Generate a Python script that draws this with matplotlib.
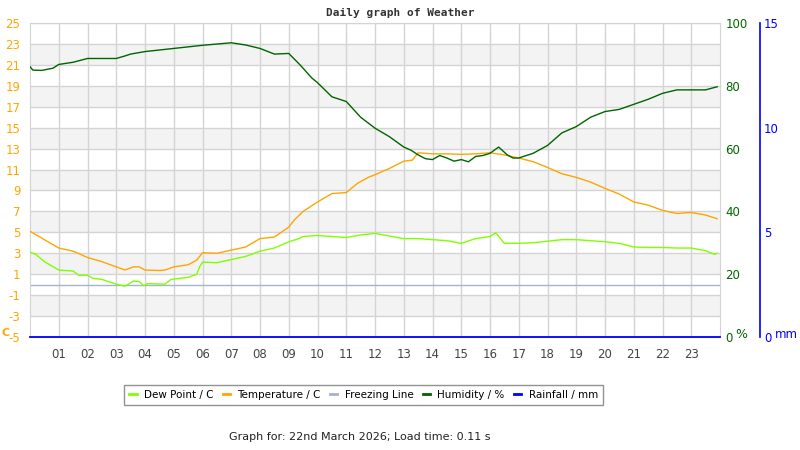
import matplotlib
matplotlib.use("Agg")
import matplotlib.pyplot as plt
from matplotlib.lines import Line2D

plt.rcParams["axes.unicode_minus"] = False

# hours of the day and readings
temp_hours = [0.0, 0.5, 1.0, 1.5, 2.0, 2.5, 3.0, 3.3, 3.6, 3.8, 4.0, 4.5, 4.7, 5.0, 5.5, 5.8,
              6.0, 6.5, 7.0, 7.5, 8.0, 8.5, 9.0, 9.2, 9.5, 10.0, 10.5, 11.0, 11.4, 11.8, 12.0,
              12.5, 13.0, 13.3, 13.5, 14.0, 14.5, 15.0, 15.5, 16.0, 16.5, 17.0, 17.5, 18.0,
              18.5, 19.0, 19.5, 20.0, 20.5, 21.0, 21.5, 22.0, 22.5, 23.0, 23.5, 23.9]
temperature = [5.1, 4.3, 3.5, 3.2, 2.6, 2.2, 1.7, 1.4, 1.7, 1.7, 1.4, 1.35, 1.4, 1.7, 1.9, 2.35,
               3.05, 3.0, 3.3, 3.6, 4.4, 4.55, 5.5, 6.2, 7.0, 7.9, 8.7, 8.8, 9.7, 10.3, 10.5,
               11.1, 11.8, 11.9, 12.6, 12.5, 12.5, 12.45, 12.5, 12.6, 12.4, 12.1, 11.75, 11.2,
               10.6, 10.25, 9.8, 9.2, 8.65, 7.9, 7.6, 7.1, 6.8, 6.9, 6.65, 6.3]

dew_hours = [0.0, 0.2, 0.5, 1.0, 1.5, 1.7, 2.0, 2.2, 2.5, 3.0, 3.3, 3.6, 3.8, 3.95, 4.1, 4.7,
             4.9, 5.5, 5.8, 5.9, 6.0, 6.5, 7.0, 7.5, 8.0, 8.5, 9.0, 9.3, 9.5, 10.0, 10.5, 11.0,
             11.5, 12.0, 12.5, 13.0, 13.5, 14.0, 14.5, 15.0, 15.5, 16.0, 16.2, 16.5, 17.0,
             17.5, 18.0, 18.5, 19.0, 19.5, 20.0, 20.5, 21.0, 21.5, 22.0, 22.5, 23.0, 23.5,
             23.8, 23.9]
dew_point = [3.1, 2.9, 2.2, 1.4, 1.3, 0.9, 0.9, 0.6, 0.5, 0.05, -0.15, 0.35, 0.3, -0.1, 0.1, 0.05,
             0.5, 0.7, 1.0, 1.7, 2.15, 2.1, 2.4, 2.7, 3.2, 3.5, 4.1, 4.35, 4.6, 4.7, 4.6, 4.5,
             4.75, 4.9, 4.65, 4.4, 4.4, 4.3, 4.2, 3.95, 4.4, 4.6, 4.95, 3.95, 3.95,
             4.0, 4.15, 4.3, 4.3, 4.2, 4.1, 3.95, 3.6, 3.55, 3.55, 3.5, 3.5, 3.25,
             2.9, 3.0]

hum_hours = [0.0, 0.1, 0.4, 0.8, 1.0, 1.5, 2.0, 3.0, 3.3, 3.5, 4.0, 5.0, 6.0, 7.0, 7.5, 8.0,
             8.5, 9.0, 9.4, 9.8, 10.0, 10.5, 11.0, 11.5, 12.0, 12.5, 13.0, 13.25, 13.5, 13.75,
             14.0, 14.25, 14.5, 14.75, 15.0, 15.25, 15.5, 15.75, 16.0, 16.3, 16.6, 16.8, 17.0,
             17.5, 18.0, 18.5, 19.0, 19.5, 20.0, 20.5, 21.0, 21.5, 22.0, 22.5, 23.0, 23.5, 23.9]
humidity = [86.1, 85.0, 84.9, 85.6, 86.8, 87.5, 88.7, 88.7, 89.5, 90.1, 90.9, 91.9, 92.9, 93.7,
            93.0, 91.9, 90.1, 90.3, 86.6, 82.5, 81.0, 76.5, 75.0, 70.0, 66.5, 63.8, 60.5, 59.5,
            58.0, 56.8, 56.5, 57.8, 57.0, 56.0, 56.5, 55.8, 57.5, 57.8, 58.5, 60.5, 58.0, 57.0,
            57.0, 58.5, 61.0, 65.0, 67.0, 70.0, 71.8, 72.5, 74.1, 75.7, 77.6, 78.7, 78.7, 78.7,
            79.7]

rain_hours = [0.0, 24.0]
rainfall = [0.0, 0.0]

freezing = 0.0
hour_labels = ["%02d" % h for h in range(1, 24)]

C_DEW = "#7fff00"
C_TEMP = "#ffa500"
C_FREEZE = "#a6b3c8"
C_HUM = "#006400"
C_RAIN = "#0000ff"
C_GRID = "#d4d4d4"

fig = plt.figure(figsize=(8, 4.5), dpi=100)
ax = fig.add_axes([30 / 800, 1 - 337 / 450, 690 / 800, 314 / 450])

# alternate shaded bands
for lo in range(-3, 25, 4):
    ax.axhspan(lo, lo + 2, color="#f3f3f3", lw=0, zorder=0)

ax.set_xlim(0, 24)
ax.set_ylim(-5, 25)
ax.set_yticks(range(-5, 26, 2))
ax.set_xticks(range(1, 24))
ax.set_xticklabels(hour_labels)
ax.grid(True, color=C_GRID, lw=1.0, zorder=1)
ax.set_axisbelow(True)
ax.tick_params(axis="y", length=0, colors=C_TEMP, labelsize=8.5, pad=7)
ax.tick_params(axis="x", length=0, colors="#444444", labelsize=8.5, pad=8)
for s in ax.spines.values():
    s.set_color(C_GRID)

ax.axhline(freezing, color=C_FREEZE, lw=1.0, zorder=2)
ax.plot(dew_hours, dew_point, color=C_DEW, lw=1.0, zorder=3)
ax.plot(temp_hours, temperature, color=C_TEMP, lw=1.0, zorder=3)

# humidity axis
ax2 = ax.twinx()
ax2.set_ylim(0, 100)
ax2.set_yticks(range(0, 101, 20))
ax2.tick_params(axis="y", length=0, colors=C_HUM, labelsize=8.5, pad=4)
for s in ax2.spines.values():
    s.set_visible(False)
ax2.plot(hum_hours, humidity, color=C_HUM, lw=1.0, zorder=3)

# rainfall axis
ax3 = ax.twinx()
ax3.set_ylim(0, 15)
ax3.set_yticks([0, 5, 10, 15])
ax3.spines["right"].set_position(("axes", (760 - 30) / 690))
ax3.spines["right"].set_color(C_RAIN)
ax3.spines["right"].set_linewidth(1.2)
for k in ["top", "left", "bottom"]:
    ax3.spines[k].set_visible(False)
ax3.tick_params(axis="y", length=0, colors=C_RAIN, labelsize=8.5, pad=3)
ax3.plot(rain_hours, rainfall, color=C_RAIN, lw=1.3, clip_on=False, zorder=4)

fig.text(0.5, 1 - 13 / 450, "Daily graph of Weather", ha="center", va="center",
         family="DejaVu Sans Mono", weight="bold", fontsize=8, color="#333333")
fig.text(2 / 800, 1 - 333 / 450, "C", ha="left", va="center", color=C_TEMP,
         weight="bold", fontsize=8)
fig.text(735 / 800, 1 - 335 / 450, "%", ha="left", va="center", color=C_HUM, fontsize=9)
fig.text(775 / 800, 1 - 335 / 450, "mm", ha="left", va="center", color=C_RAIN, fontsize=8.5)

handles = [Line2D([], [], color=c, lw=2) for c in [C_DEW, C_TEMP, C_FREEZE, C_HUM, C_RAIN]]
labels = ["Dew Point / C", "Temperature / C", "Freezing Line", "Humidity / %", "Rainfall / mm"]
leg = fig.legend(handles, labels, loc="center", bbox_to_anchor=(363.5 / 800, 1 - 395 / 450),
                 ncol=5, fontsize=7.5, frameon=True, fancybox=False, handlelength=0.7,
                 handletextpad=0.7, columnspacing=0.9, borderpad=0.5, borderaxespad=0)
leg.get_frame().set_edgecolor("#777777")
leg.get_frame().set_linewidth(1.0)

fig.text(360 / 800, 1 - 437 / 450, "Graph for: 22nd March 2026; Load time: 0.11 s",
         ha="center", va="center", fontsize=8, color="#222222")

fig.savefig("out.png", dpi=100)
